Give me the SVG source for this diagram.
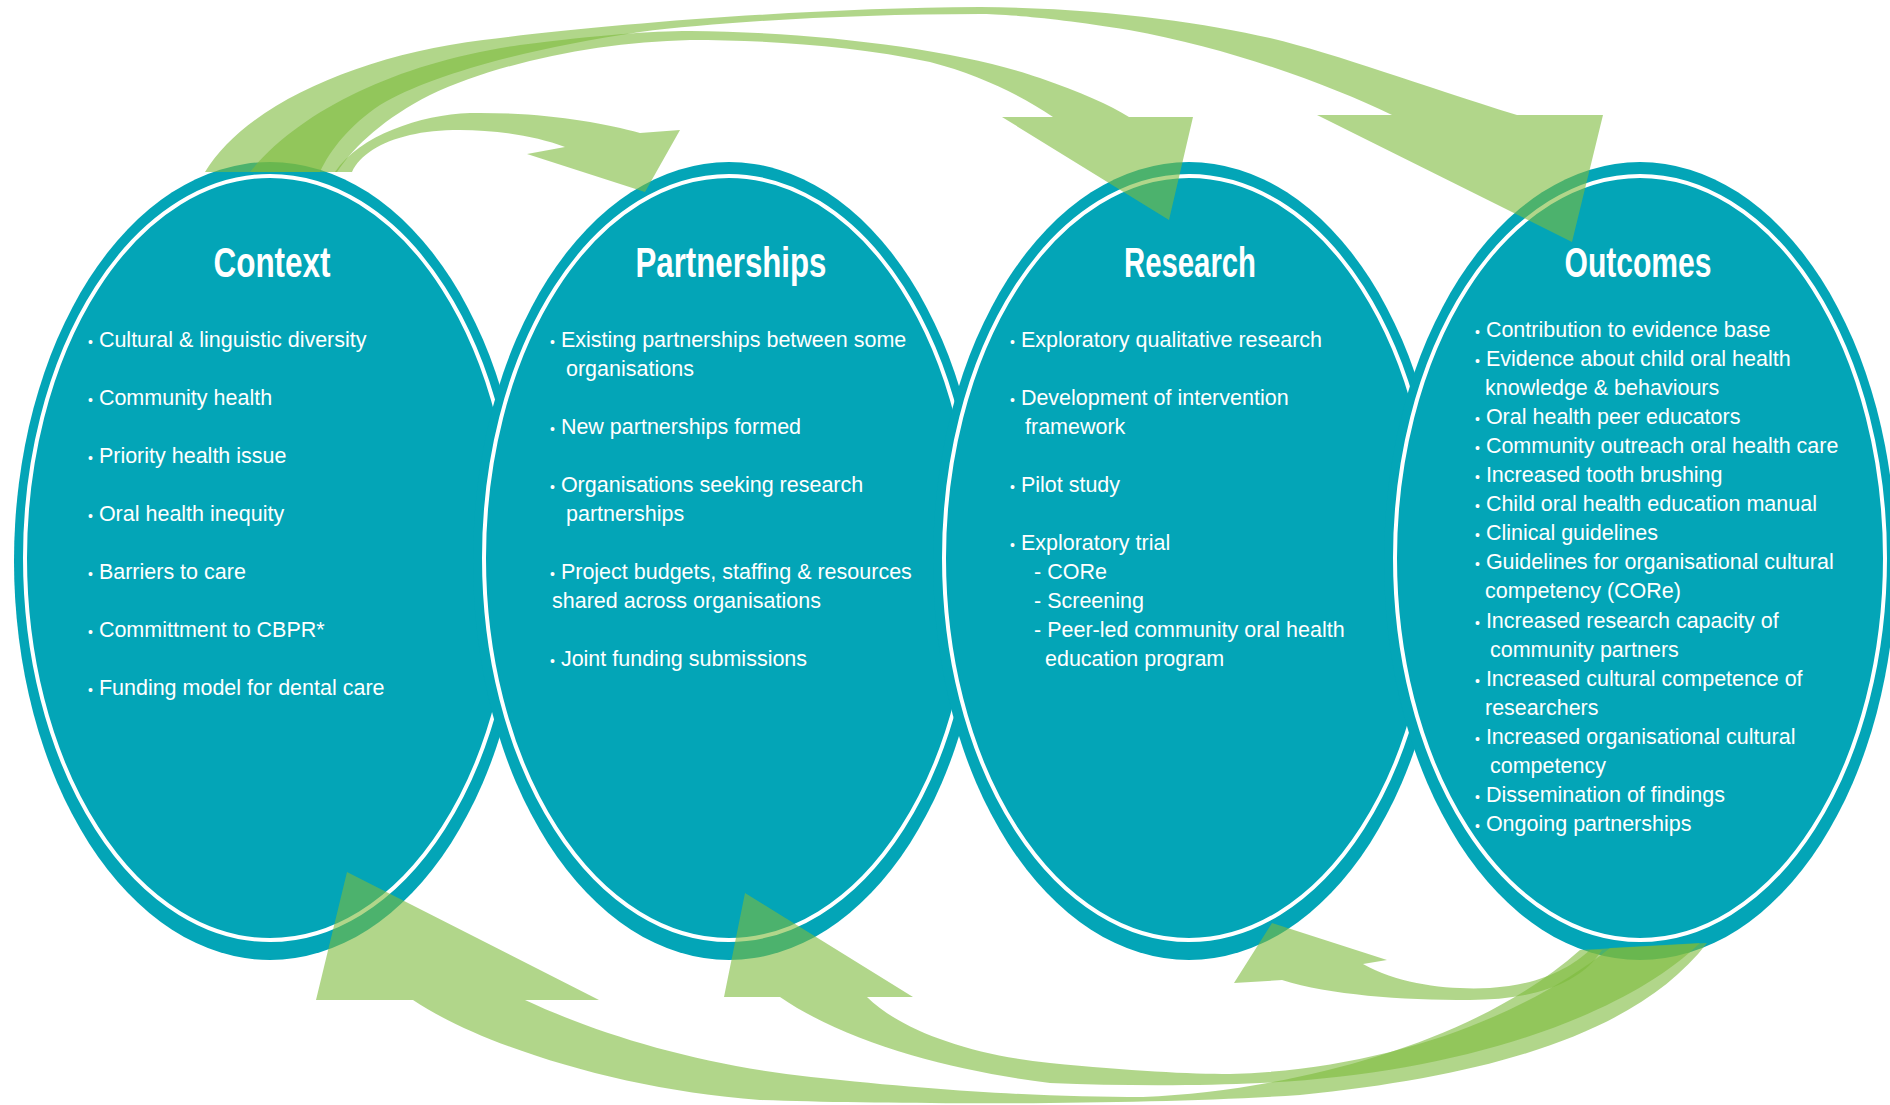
<svg xmlns="http://www.w3.org/2000/svg" width="1890" height="1105" viewBox="0 0 1890 1105">
<style>
.ell{fill:#03a5b7}
.ring{fill:none;stroke:#ffffff;stroke-width:4}
.ttl{font-family:"Liberation Sans",Arial,sans-serif;font-weight:bold;font-size:43px;fill:#ffffff;text-anchor:middle}
.txt{font-family:"Liberation Sans",Arial,sans-serif;font-size:21.5px;fill:#ffffff}
.b{font-size:14px}
.arr{fill:#7dbb3c;fill-opacity:0.6}
</style>
<rect width="1890" height="1105" fill="#ffffff"/>
<g id="context">
<ellipse class="ell" cx="270" cy="561" rx="256" ry="399"/>
<ellipse class="ring" cx="270" cy="558" rx="245" ry="382"/>
<text class="ttl" x="272" y="277" textLength="117" lengthAdjust="spacingAndGlyphs">Context</text>
<text class="txt" x="88" y="347"><tspan class="b">•</tspan> Cultural &amp; linguistic diversity</text>
<text class="txt" x="88" y="405"><tspan class="b">•</tspan> Community health</text>
<text class="txt" x="88" y="463"><tspan class="b">•</tspan> Priority health issue</text>
<text class="txt" x="88" y="521"><tspan class="b">•</tspan> Oral health inequity</text>
<text class="txt" x="88" y="579"><tspan class="b">•</tspan> Barriers to care</text>
<text class="txt" x="88" y="637"><tspan class="b">•</tspan> Committment to CBPR*</text>
<text class="txt" x="88" y="695"><tspan class="b">•</tspan> Funding model for dental care</text>
</g>
<g id="partnerships">
<ellipse class="ell" cx="729" cy="561" rx="256" ry="399"/>
<ellipse class="ring" cx="729" cy="558" rx="245" ry="382"/>
<text class="ttl" x="731" y="277" textLength="191" lengthAdjust="spacingAndGlyphs">Partnerships</text>
<text class="txt" x="550" y="347"><tspan class="b">•</tspan> Existing partnerships between some</text>
<text class="txt" x="566" y="376">organisations</text>
<text class="txt" x="550" y="434"><tspan class="b">•</tspan> New partnerships formed</text>
<text class="txt" x="550" y="492"><tspan class="b">•</tspan> Organisations seeking research</text>
<text class="txt" x="566" y="521">partnerships</text>
<text class="txt" x="550" y="579"><tspan class="b">•</tspan> Project budgets, staffing &amp; resources</text>
<text class="txt" x="552" y="608">shared across organisations</text>
<text class="txt" x="550" y="666"><tspan class="b">•</tspan> Joint funding submissions</text>
</g>
<g id="research">
<ellipse class="ell" cx="1189" cy="561" rx="256" ry="399"/>
<ellipse class="ring" cx="1189" cy="558" rx="245" ry="382"/>
<text class="ttl" x="1190" y="277" textLength="132" lengthAdjust="spacingAndGlyphs">Research</text>
<text class="txt" x="1010" y="347"><tspan class="b">•</tspan> Exploratory qualitative research</text>
<text class="txt" x="1010" y="405"><tspan class="b">•</tspan> Development of intervention</text>
<text class="txt" x="1025" y="434">framework</text>
<text class="txt" x="1010" y="492"><tspan class="b">•</tspan> Pilot study</text>
<text class="txt" x="1010" y="550"><tspan class="b">•</tspan> Exploratory trial</text>
<text class="txt" x="1034" y="579">- CORe</text>
<text class="txt" x="1034" y="608">- Screening</text>
<text class="txt" x="1034" y="637">- Peer-led community oral health</text>
<text class="txt" x="1045" y="666">education program</text>
</g>
<g id="outcomes">
<ellipse class="ell" cx="1640" cy="561" rx="256" ry="399"/>
<ellipse class="ring" cx="1640" cy="558" rx="245" ry="382"/>
<text class="ttl" x="1638" y="277" textLength="147" lengthAdjust="spacingAndGlyphs">Outcomes</text>
<text class="txt" x="1475" y="337"><tspan class="b">•</tspan> Contribution to evidence base</text>
<text class="txt" x="1475" y="366"><tspan class="b">•</tspan> Evidence about child oral health</text>
<text class="txt" x="1485" y="395">knowledge &amp; behaviours</text>
<text class="txt" x="1475" y="424"><tspan class="b">•</tspan> Oral health peer educators</text>
<text class="txt" x="1475" y="453"><tspan class="b">•</tspan> Community outreach oral health care</text>
<text class="txt" x="1475" y="482"><tspan class="b">•</tspan> Increased tooth brushing</text>
<text class="txt" x="1475" y="511"><tspan class="b">•</tspan> Child oral health education manual</text>
<text class="txt" x="1475" y="540"><tspan class="b">•</tspan> Clinical guidelines</text>
<text class="txt" x="1475" y="569"><tspan class="b">•</tspan> Guidelines for organisational cultural</text>
<text class="txt" x="1485" y="598">competency (CORe)</text>
<text class="txt" x="1475" y="628"><tspan class="b">•</tspan> Increased research capacity of</text>
<text class="txt" x="1490" y="657">community partners</text>
<text class="txt" x="1475" y="686"><tspan class="b">•</tspan> Increased cultural competence of</text>
<text class="txt" x="1485" y="715">researchers</text>
<text class="txt" x="1475" y="744"><tspan class="b">•</tspan> Increased organisational cultural</text>
<text class="txt" x="1490" y="773">competency</text>
<text class="txt" x="1475" y="802"><tspan class="b">•</tspan> Dissemination of findings</text>
<text class="txt" x="1475" y="831"><tspan class="b">•</tspan> Ongoing partnerships</text>
</g>
<g id="connectors">
<path id="context-to-outcomes" class="arr" d="M205,172 C245,105 360,55 483,40 C600,25 800,8 980,7 C1100,8 1200,22 1270,38 C1340,55 1420,85 1517,115 L1603,115 L1572,242 L1317,115 L1392,115 C1330,85 1230,48 1129,30 C1050,17 1000,14 980,14 C850,14 720,22 640,32 C530,48 430,75 380,105 C350,125 330,150 320,172 Z"/>
<path id="context-to-research" class="arr" d="M250,172 C300,110 400,62 520,45 C600,35 650,31 690,31 C820,32 960,50 1040,78 C1080,92 1110,105 1129,117 L1193,117 L1169,220 L1002,117 L1053,117 C1020,95 980,75 930,62 C850,45 760,40 690,40 C600,42 500,62 430,95 C385,118 355,145 337,172 Z"/>
<path id="context-to-partnerships" class="arr" d="M335,172 C360,135 420,115 470,113 C540,112 600,122 640,133 L680,130 L645,192 L527,154 L565,147 C520,130 450,125 410,135 C380,142 360,155 352,172 Z"/>
<path id="outcomes-to-context" class="arr" d="M525,1000 C600,1035 700,1065 811,1077 C950,1092 1050,1097 1143,1097 C1300,1090 1480,1040 1580,950 L1707,943 C1640,1030 1500,1075 1300,1095 C1150,1105 900,1105 760,1100 C620,1090 480,1045 413,1000 L316,1000 L347,872 L599,1000 Z"/>
<path id="outcomes-to-partnerships" class="arr" d="M867,997 C900,1030 970,1055 1050,1063 C1130,1071 1190,1074 1230,1074 C1380,1070 1520,1020 1610,948 L1700,943 C1620,1020 1450,1075 1260,1083 C1200,1086 1120,1086 1050,1083 C960,1072 850,1045 780,997 L724,997 L745,893 L913,997 Z"/>
<path id="outcomes-to-research" class="arr" d="M1363,964 C1400,985 1450,990 1490,988 C1540,985 1570,968 1590,950 L1602,950 C1580,985 1530,1000 1470,1000 C1400,1000 1330,995 1282,980 L1234,983 L1272,923 L1387,960 Z"/>
</g>
</svg>
